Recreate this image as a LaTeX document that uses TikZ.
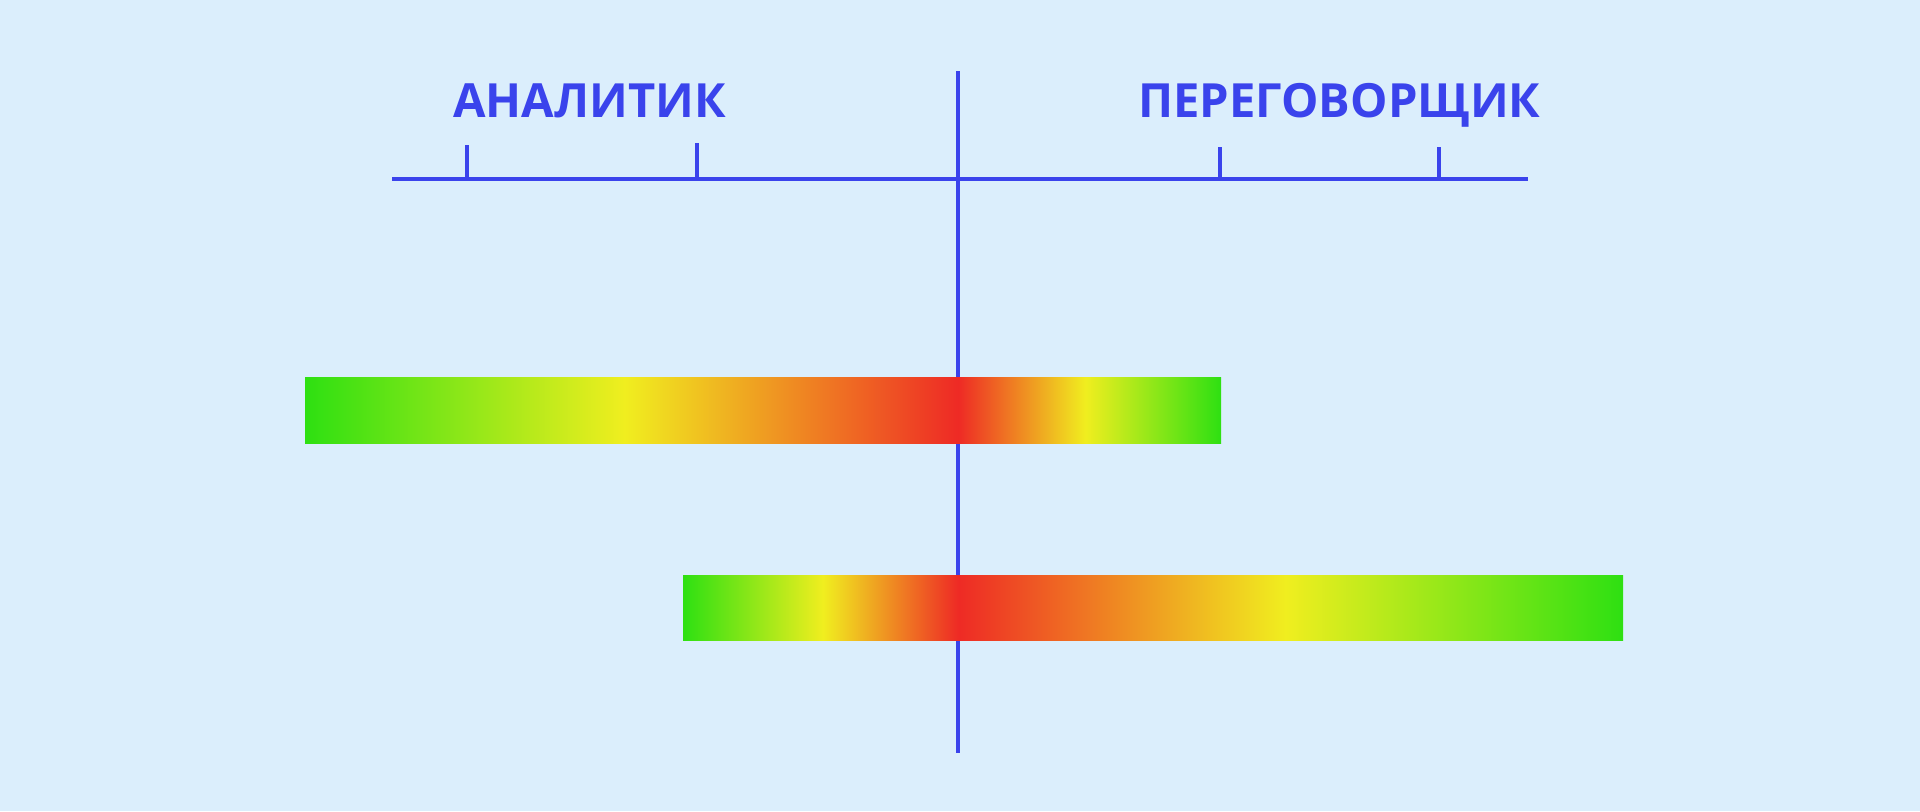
\documentclass[tikz,border=0pt]{standalone}
\usepackage{fontspec}
\setmainfont{Open Sans}
\usepackage{xcolor}
\usetikzlibrary{positioning}

\definecolor{bgblue}{HTML}{DBEEFC}
\definecolor{axisblue}{HTML}{3A43EC}
\definecolor{zgreen}{HTML}{2EE012}
\definecolor{zyellow}{HTML}{F0EE1F}
\definecolor{zred}{HTML}{EE2A25}

\pgfdeclarehorizontalshading{analystbar}{100bp}{color(0bp)=(zgreen); color(25bp)=(zgreen); color(42.45bp)=(zyellow); color(60.65bp)=(zred); color(67.6bp)=(zyellow); color(75bp)=(zgreen); color(100bp)=(zgreen)}
\pgfdeclarehorizontalshading{negotiatorbar}{100bp}{color(0bp)=(zgreen); color(25bp)=(zgreen); color(32.45bp)=(zyellow); color(39.65bp)=(zred); color(57.05bp)=(zyellow); color(75bp)=(zgreen); color(100bp)=(zgreen)}

\begin{document}
\begin{tikzpicture}[x=0.025cm, y=-0.025cm, line width=2.9pt,
    axisline/.style={draw=axisblue},
    role/.style={font=\fontsize{33.5}{38}\selectfont\bfseries, text=axisblue, inner sep=0pt, anchor=base}]
  \fill[bgblue] (0,0) rectangle (1920,811);
  \useasboundingbox (0,0) rectangle (1920,811);

  % axis and centre line
  \coordinate (axisL) at (392,179);
  \coordinate (axisR) at (1528,179);
  \coordinate (midT) at (958,71);
  \coordinate (midB) at (958,753);
  \draw[axisline] (axisL) -- (axisR);
  \draw[axisline] (midT) -- (midB);

  % ticks
  \foreach \x/\t in {467/145, 697/143, 1220/147, 1439/147} {
    \coordinate (tickT) at (\x,\t);
    \coordinate (tickB) at (\x,179);
    \draw[axisline] (tickT) -- (tickB);
  }

  \node[role] (analyst) at (589.5,117) {АНАЛИТИК};
  \node[role] (negotiator) at (1339.5,117) {ПЕРЕГОВОРЩИК};

  % bars
  \shade[shading=analystbar] (305,377.5) rectangle (1221,443);
  \shade[shading=negotiatorbar] (683,575) rectangle (1623,640.5);
\end{tikzpicture}
\end{document}
